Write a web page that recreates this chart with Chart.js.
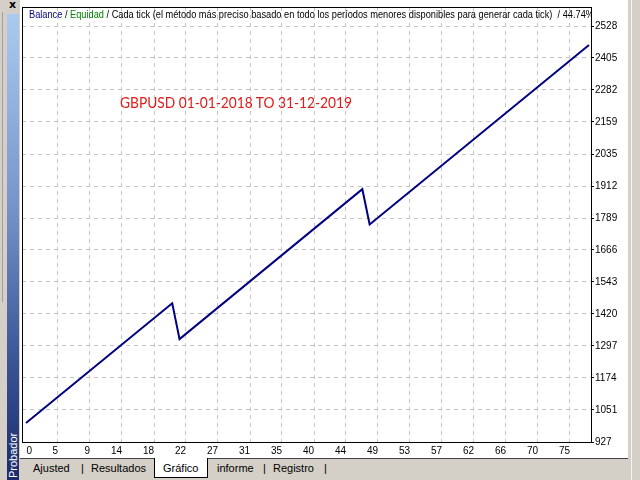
<!DOCTYPE html>
<html><head><meta charset="utf-8">
<script src="https://cdn.jsdelivr.net/npm/chart.js@4/dist/chart.umd.min.js"></script>
<style>
html,body{margin:0;padding:0;}
body{width:640px;height:480px;background:#d4d0c8;position:relative;overflow:hidden;font-family:'Liberation Sans',Arial,sans-serif;}
#leftline{position:absolute;left:2px;top:12px;width:1px;height:290px;background:#a0a0a0;}
#closex{position:absolute;left:9px;top:-2px;font:bold 11px 'DejaVu Sans',sans-serif;color:#000;}
#side{position:absolute;left:7px;top:14px;width:12px;height:466px;background:linear-gradient(#aacbf0 0%,#7896cc 40%,#3a5394 75%,#1b2b6b 100%);}
#probador{position:absolute;left:7px;top:478px;transform-origin:0 0;transform:rotate(-90deg);color:#fff;font-size:11px;line-height:12px;height:12px;width:60px;white-space:nowrap;}
#panel{position:absolute;left:20px;top:0;width:608px;height:458px;background:#fff;}
#rline{position:absolute;left:631px;top:0;width:1px;height:480px;background:#f4f4f4;}
#wrap{position:absolute;left:20px;top:0;width:608px;height:458px;}
#title{position:absolute;left:29px;top:9px;width:562px;height:13px;overflow:hidden;white-space:nowrap;font-size:10px;line-height:12px;color:#000;}
#title span.in{display:inline-block;transform-origin:0 0;}
#note{position:absolute;left:120px;top:93px;white-space:nowrap;font-family:Lato,'Open Sans',sans-serif;font-size:16px;line-height:18px;color:#e01b1b;}
#note span.in{display:inline-block;transform-origin:0 0;}
#tabs{position:absolute;left:20px;top:458px;width:608px;height:22px;border-top:1px solid #404040;}
.t{position:absolute;top:462px;font-size:11px;line-height:12px;color:#000;white-space:nowrap;}
#seltab{position:absolute;left:154px;top:458px;width:52px;height:19px;background:#fff;border-left:1px solid #000;border-right:1px solid #000;border-bottom:1px solid #000;}
</style>
</head><body>
<div id="leftline"></div>
<div id="closex">x</div>
<div id="side"></div>
<div id="probador">Probador</div>
<div id="panel"></div>
<div id="rline"></div>
<div id="wrap"><canvas id="c" width="608" height="458"></canvas></div>
<div id="title"><span class="in" id="titlein"><span style="color:#000080">Balance</span> / <span style="color:#008000">Equidad</span> / Cada tick (el método más preciso basado en todo los períodos menores disponibles para generar cada tick)&nbsp; / 44.74%</span></div>
<div id="note"><span class="in" id="notein">GBPUSD 01-01-2018 TO 31-12-2019</span></div>
<div id="tabs"></div>
<div id="seltab"></div>
<span class="t" style="left:33px">Ajusted</span>
<span class="t" style="left:81px">|</span>
<span class="t" style="left:91px">Resultados</span>
<span class="t" style="left:163px">Gráfico</span>
<span class="t" style="left:217px">informe</span>
<span class="t" style="left:263px">|</span>
<span class="t" style="left:273px">Registro</span>
<span class="t" style="left:324px">|</span>
<script>
// ---- data ----
const tradeIndex = [0, 20, 21, 46, 47, 77];
const balance    = [1000, 1461, 1323, 1900, 1764, 2455];
const xTickLabels = ['0','5','9','14','18','22','27','31','35','40','44','49','53','57','62','66','70','75'];
const yTickLabels = [927, 1051, 1174, 1297, 1420, 1543, 1666, 1789, 1912, 2035, 2159, 2282, 2405, 2528];

function fit(el, w){ const r = el.getBoundingClientRect().width; el.style.transform = 'scaleX(' + (w / r) + ')'; }
fit(document.getElementById('titlein'), 565);
fit(document.getElementById('notein'), 232);

const PX = 563 / 77;          // pixels per trade
const XMIN = -4 / PX;
const XMAX = XMIN + 569 / PX;
const XSTEP = 32 / PX;
const FONT = {family: "'Liberation Sans Narrow','Liberation Sans',Arial,sans-serif", size: 10};

const framePlugin = {
  id: 'frame',
  afterDraw(chart){
    const a = chart.chartArea, ctx = chart.ctx;
    ctx.save();
    ctx.strokeStyle = '#000'; ctx.lineWidth = 1;
    ctx.strokeRect(Math.round(a.left) + 0.5, Math.round(a.top) + 0.5, Math.round(a.right - a.left), Math.round(a.bottom - a.top));
    ctx.restore();
  }
};

new Chart(document.getElementById('c'), {
  type: 'line',
  data: {
    datasets: [{
      data: tradeIndex.map((x, i) => ({x: x, y: balance[i]})),
      borderColor: '#000080',
      borderWidth: 2,
      pointRadius: 0,
      tension: 0,
      fill: false
    }]
  },
  options: {
    responsive: false,
    animation: false,
    devicePixelRatio: 1,
    layout: {padding: {left: 2, top: 7, right: 0, bottom: 0}},
    plugins: {legend: {display: false}, tooltip: {enabled: false}},
    scales: {
      x: {
        type: 'linear', min: XMIN, max: XMAX,
        afterFit(s){ s.height = 16; },
        afterBuildTicks(s){ s.ticks = xTickLabels.map((l, i) => ({value: i === 0 ? 6 / PX : i * XSTEP})); },
        ticks: {autoSkip: false, maxRotation: 0, minRotation: 0, align: 'end', padding: 3, color: '#000', font: FONT,
                callback: (v, i) => xTickLabels[i]},
        grid: {color: (c) => c.index === 0 ? 'rgba(0,0,0,0)' : '#c4c4c4', drawTicks: false, lineWidth: 1, borderDash: [4, 4]},
        border: {display: false, dash: [4, 4]}
      },
      y: {
        type: 'linear', position: 'right', min: 927, max: 2528 + 19 * (1601 / 13) / 32,
        afterFit(s){ s.width = 37; },
        afterBuildTicks(s){ s.ticks = yTickLabels.map(v => ({value: v})); },
        ticks: {autoSkip: false, padding: 1, color: '#000', font: FONT, callback: (v, i) => String(yTickLabels[i])},
        grid: {color: '#c4c4c4', tickColor: '#000', tickLength: 3, lineWidth: 1, borderDash: [4, 4]},
        border: {display: false, dash: [4, 4]}
      }
    }
  },
  plugins: [framePlugin]
});
</script>
</body></html>
